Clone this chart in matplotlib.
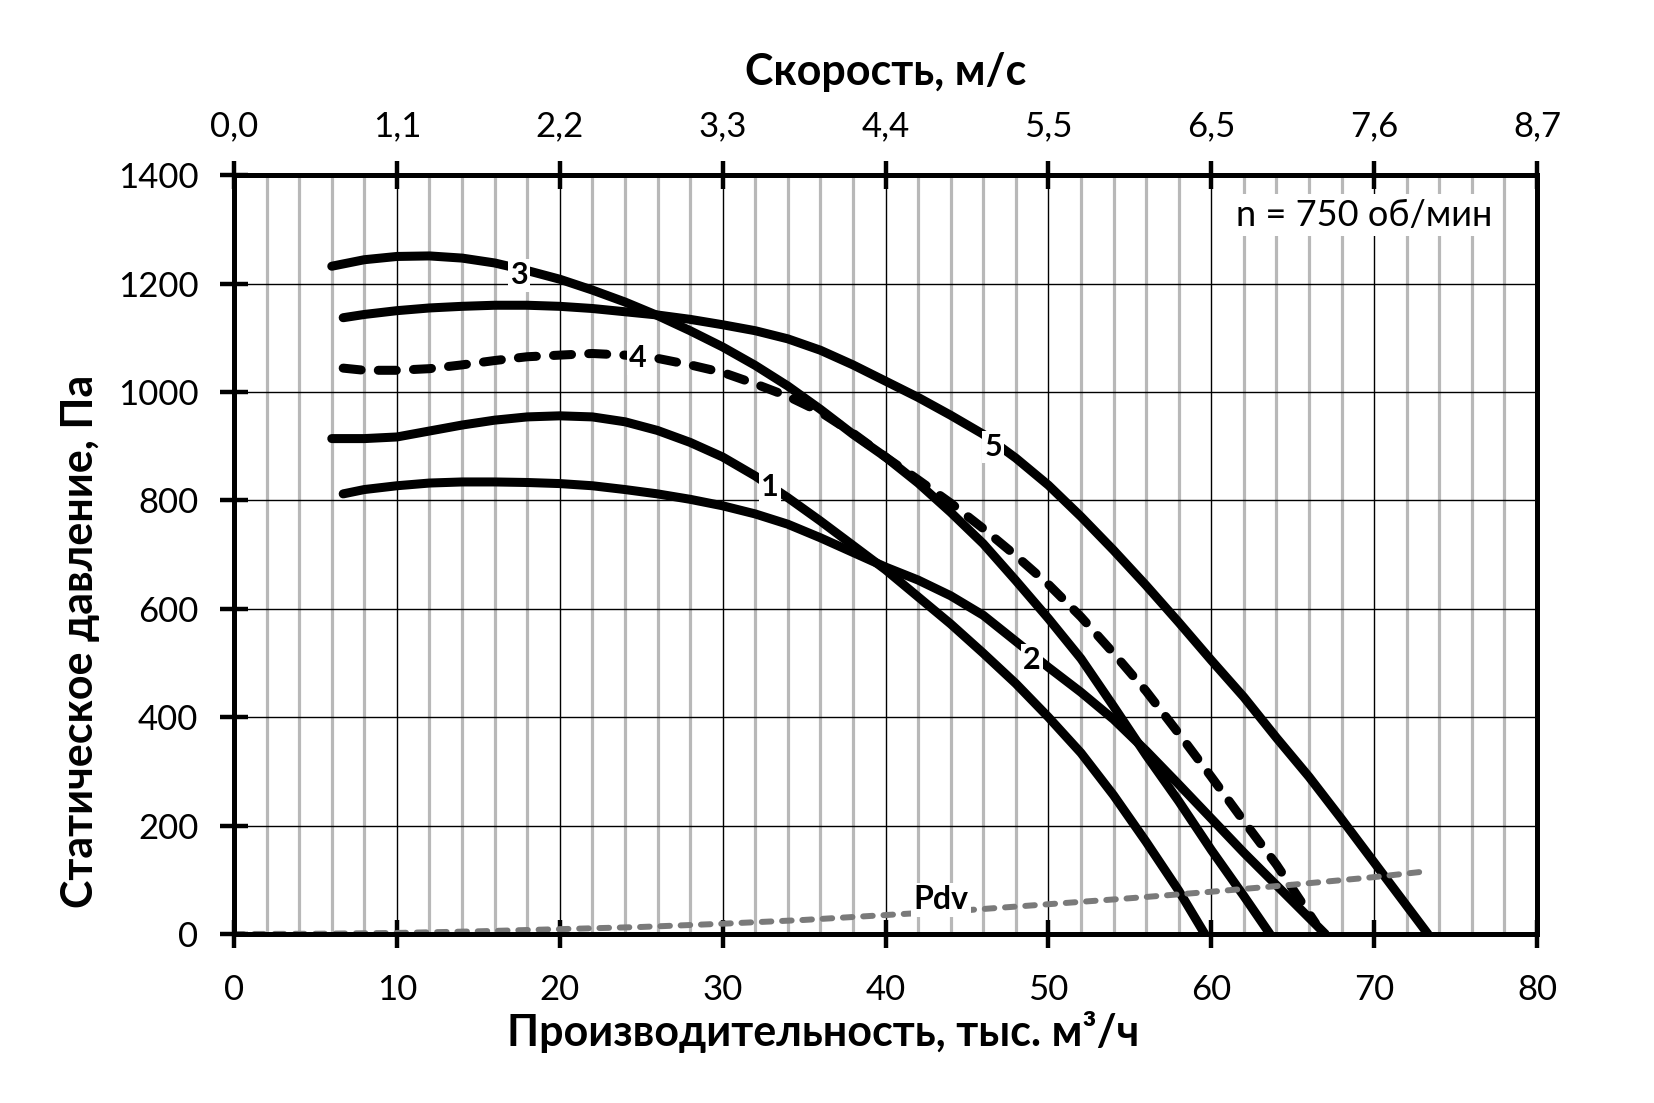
import matplotlib
matplotlib.use('Agg')
import matplotlib.pyplot as plt
from matplotlib.ticker import MultipleLocator

plt.rcParams['font.family'] = ['Lato', 'DejaVu Sans']

# ---- values ----
# curve 1
q1 = [6, 8, 10, 12, 14, 16, 18, 20, 22, 24, 26, 28, 30, 32, 34, 36, 38, 40,
      42, 44, 46, 48, 50, 52, 54, 56, 58, 59.6]
p1 = [914, 914, 917, 928, 939, 948, 954, 956, 954, 945, 929, 907, 880, 845,
      805, 762, 717, 672, 622, 572, 518, 462, 400, 334, 256, 170, 80, 0]

# curve 2
q2 = [6.7, 8, 10, 12, 14, 16, 18, 20, 22, 24, 26, 28, 30, 32, 34, 36, 38, 40,
      42, 44, 46, 48, 50, 52, 54, 56, 58, 60, 62, 64, 66, 67]
p2 = [812, 820, 827, 832, 834, 834, 833, 831, 827, 820, 812, 802, 790, 775,
      756, 731, 704, 677, 653, 624, 588, 540, 492, 446, 396, 338, 276, 213,
      150, 90, 30, 0]

# curve 3
q3 = [6, 8, 10, 12, 14, 16, 18, 20, 22, 24, 26, 28, 30, 32, 34, 36, 38, 40,
      42, 44, 46, 48, 50, 52, 54, 56, 58, 60, 62, 63.6]
p3 = [1232, 1244, 1250, 1251, 1247, 1238, 1224, 1208, 1188, 1166, 1141, 1113,
      1083, 1049, 1011, 968, 922, 880, 832, 778, 720, 652, 582, 508, 420, 330,
      245, 155, 70, 0]

# curve 4 (dashed)
q4 = [6.7, 8, 10, 12, 14, 16, 18, 20, 22, 24, 26, 28, 30, 32, 34, 36, 38, 40,
      42, 44, 46, 48, 50, 52, 54, 56, 58, 60, 62, 64, 66, 66.4]
p4 = [1044, 1040, 1040, 1043, 1050, 1058, 1065, 1068, 1071, 1068, 1062, 1050,
      1036, 1015, 992, 963, 924, 880, 838, 795, 748, 698, 645, 585, 518, 448,
      370, 290, 208, 128, 38, 20]

# curve 5
q5 = [6.7, 8, 10, 12, 14, 16, 18, 20, 22, 24, 26, 28, 30, 32, 34, 36, 38, 40,
      42, 44, 46, 48, 50, 52, 54, 56, 58, 60, 62, 64, 66, 68, 70, 72, 73.3]
p5 = [1137, 1143, 1150, 1155, 1158, 1160, 1160, 1158, 1154, 1148, 1142, 1134,
      1124, 1113, 1098, 1077, 1050, 1020, 990, 957, 922, 878, 828, 770, 708,
      643, 575, 505, 437, 362, 290, 212, 132, 52, 0]

# dynamic pressure
q_pdv = [0, 5, 10, 15, 20, 25, 30, 35, 40, 45, 50, 55, 60, 65, 70, 73]
p_pdv = [0, 0.5, 2, 5, 9, 13, 19, 26, 35, 44, 55, 66, 78, 91, 105, 115]

flow_ticks = [0, 10, 20, 30, 40, 50, 60, 70, 80]
speed_labels = ['0,0', '1,1', '2,2', '3,3', '4,4', '5,5', '6,5', '7,6', '8,7']
press_ticks = [0, 200, 400, 600, 800, 1000, 1200, 1400]

# curve name, x, y
curve_labels = [('1', 32.9, 824), ('2', 49.0, 505), ('3', 17.5, 1215),
                ('4', 24.8, 1062), ('5', 46.6, 899)]

# ---- figure ----
fig = plt.figure(figsize=(16.54, 11.03), dpi=100)
ax = fig.add_axes([0.1415, 0.1532, 0.7878, 0.688])

ax.set_xlim(0, 80)
ax.set_ylim(0, 1400)
ax.set_xticks(flow_ticks)
ax.set_yticks(press_ticks)
ax.xaxis.set_minor_locator(MultipleLocator(2))

ax.set_axisbelow(True)
ax.grid(which='minor', axis='x', color='#b8b8b8', lw=2.3)
ax.grid(which='major', color='black', lw=1.0)

for s in ax.spines.values():
    s.set_linewidth(3.6)

ax.tick_params(which='major', direction='inout', length=19.5, width=3.2,
               labelsize=25, top=False, right=False)
ax.tick_params(axis='x', pad=19)
ax.tick_params(axis='y', pad=16)
ax.tick_params(which='minor', length=0)

# top axis with air speed
ax2 = ax.twiny()
ax2.set_xlim(0, 80)
ax2.set_xticks(flow_ticks)
ax2.set_xticklabels(speed_labels)
ax2.tick_params(direction='inout', length=19.5, width=3.2, labelsize=25,
                pad=14)
for s in ax2.spines.values():
    s.set_linewidth(3.6)

# curves
black = dict(color='black', lw=6.5, solid_capstyle='round',
             solid_joinstyle='round', zorder=3)
ax.plot(q1, p1, **black)
ax.plot(q2, p2, **black)
ax.plot(q3, p3, **black)
ax.plot(q5, p5, **black)
ax.plot(q4, p4, color='black', lw=6.5, ls=(0, (2.0, 1.9)),
        dash_capstyle='round', zorder=3)
ax.plot(q_pdv, p_pdv, color='#7a7a7a', lw=4.3, ls=(0, (1.6, 1.8)),
        dash_capstyle='round', zorder=4)

box = dict(facecolor='white', edgecolor='none', pad=1.5)
for name, x, y in curve_labels:
    ax.text(x, y, name, fontsize=22, fontweight='bold', ha='center',
            va='center', bbox=box, zorder=5)
ax.text(43.4, 63, 'Pdv', fontsize=23, fontweight='bold', ha='center',
        va='center', bbox=box, zorder=5)
ax.text(69.4, 1326, 'n = 750 об/мин', fontsize=26, ha='center', va='center',
        bbox=dict(facecolor='white', edgecolor='none', pad=3), zorder=5)

# axis titles
ax.set_xlabel('Производительность, тыс. м³/ч', fontsize=31,
              fontweight='bold', va='center')
ax.xaxis.set_label_coords(0.4524, -0.129)
ax.set_ylabel('Статическое давление, Па', fontsize=31, fontweight='bold',
              va='center')
ax.yaxis.set_label_coords(-0.118, 0.386)
ax2.set_xlabel('Скорость, м/с', fontsize=31, fontweight='bold', va='center')
ax2.xaxis.set_label_coords(0.5, 1.1357)

fig.savefig('out.png', dpi=100, facecolor='white')
